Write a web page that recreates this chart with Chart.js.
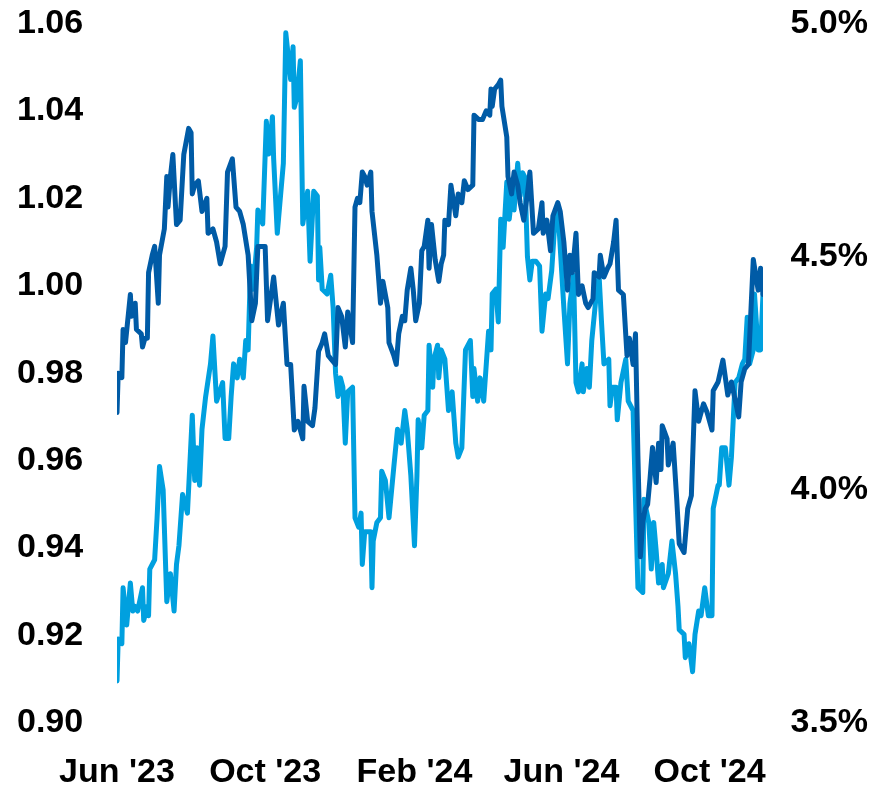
<!DOCTYPE html>
<html>
<head>
<meta charset="utf-8">
<script src="https://cdn.jsdelivr.net/npm/chart.js"></script>
<style>
	body { margin: 0; background: #fff; }
	#wrap { position: relative; width: 876px; height: 785px; }
</style>
</head>
<body>
<div id="wrap"><canvas id="chart"></canvas></div>
<script>
/* x = days after 1 Jun 2023 */
var xTickDays = [0, 122, 245, 366, 488];
var xTickLabels = ["Jun '23", "Oct '23", "Feb '24", "Jun '24", "Oct '24"];
var leftTicks = [0.90, 0.92, 0.94, 0.96, 0.98, 1.00, 1.02, 1.04, 1.06];
var rightTicks = [3.5, 4.0, 4.5, 5.0];

/* dark line, left axis */
var darkDays = [
	0, 1, 4, 5, 7, 11, 12, 15, 16, 20,
	21, 23, 25, 26, 29, 31, 34, 35, 39, 41,
	42, 44, 46, 49, 52, 55, 59, 61, 62, 64,
	67, 70, 74, 75, 79, 82, 85, 89, 91, 95,
	98, 101, 104, 108, 111, 114, 116, 122, 124, 129,
	133, 137, 140, 143, 146, 149, 153, 154, 157, 161,
	163, 166, 169, 171, 174, 177, 180, 182, 185, 188,
	190, 194, 196, 198, 200, 202, 204, 206, 209, 210,
	214, 217, 219, 223, 224, 228, 230, 232, 235, 237,
	239, 242, 244, 246, 249, 251, 253, 256, 257, 259,
	262, 265, 267, 269, 270, 273, 275, 279, 281, 284,
	286, 289, 293, 294, 298, 301, 304, 307, 308, 309,
	311, 314, 316, 317, 321, 322, 325, 327, 330, 332,
	335, 338, 340, 343, 347, 350, 351, 354, 357, 359,
	363, 365, 368, 371, 373, 375, 378, 380, 383, 386,
	388, 392, 393, 397, 398, 401, 404, 406, 409, 411,
	413, 417, 420, 422, 425, 427, 429, 431, 433, 435,
	437, 439, 441, 444, 446, 448, 449, 453, 454, 458,
	461, 463, 467, 470, 473, 476, 479, 483, 486, 490,
	491, 495, 499, 503, 506, 512, 514, 517, 520, 524,
	528, 530, 532];
var darkValues = [
	0.971, 0.980, 0.979, 0.990, 0.987, 0.998, 0.993, 0.996, 0.990, 0.989,
	0.986, 0.988, 0.988, 1.003, 1.007, 1.009, 0.996, 1.007, 1.013, 1.025,
	1.018, 1.025, 1.030, 1.014, 1.015, 1.030, 1.036, 1.035, 1.021, 1.023,
	1.024, 1.017, 1.020, 1.012, 1.013, 1.010, 1.005, 1.009, 1.026, 1.029,
	1.018, 1.017, 1.014, 1.007, 0.992, 0.996, 1.009, 1.009, 0.992, 1.002,
	0.991, 0.996, 0.982, 0.982, 0.967, 0.969, 0.965, 0.977, 0.969, 0.968,
	0.972, 0.985, 0.987, 0.989, 0.984, 0.983, 0.982, 0.995, 0.993, 0.986,
	0.994, 0.987, 1.018, 1.020, 1.019, 1.026, 1.025, 1.023, 1.026, 1.017,
	1.007, 0.996, 1.001, 0.995, 0.987, 0.984, 0.982, 0.989, 0.993, 0.992,
	0.999, 1.004, 0.999, 0.992, 0.996, 1.008, 1.009, 1.015, 1.004, 1.014,
	1.006, 1.001, 1.005, 1.007, 1.015, 1.014, 1.023, 1.016, 1.021, 1.019,
	1.024, 1.022, 1.023, 1.039, 1.038, 1.038, 1.040, 1.039, 1.045, 1.041,
	1.045, 1.046, 1.047, 1.041, 1.034, 1.025, 1.021, 1.026, 1.023, 1.019,
	1.015, 1.021, 1.026, 1.012, 1.013, 1.019, 1.012, 1.015, 1.008, 1.016,
	1.019, 1.017, 1.010, 0.999, 1.007, 1.003, 1.012, 0.998, 1.000, 0.996,
	0.995, 0.997, 1.003, 1.002, 1.007, 1.002, 1.004, 1.005, 1.010, 1.015,
	0.999, 0.998, 0.984, 0.988, 0.982, 0.989, 0.961, 0.938, 0.946, 0.949,
	0.950, 0.956, 0.963, 0.955, 0.964, 0.958, 0.968, 0.965, 0.959, 0.964,
	0.951, 0.941, 0.939, 0.949, 0.952, 0.976, 0.969, 0.973, 0.971, 0.967,
	0.976, 0.978, 0.983, 0.975, 0.978, 0.970, 0.978, 0.981, 0.982, 1.006,
	0.999, 1.004, 0.998];

/* light line, right axis (%) */
var lightDays = [
	0, 1, 4, 5, 8, 11, 13, 15, 17, 21,
	22, 25, 26, 27, 31, 33, 35, 38, 41, 44,
	47, 49, 51, 54, 58, 62, 64, 66, 68, 70,
	73, 77, 79, 82, 87, 89, 92, 94, 96, 99,
	101, 104, 106, 108, 110, 112, 115, 116, 120, 123,
	125, 128, 129, 132, 134, 137, 139, 143, 145, 146,
	148, 151, 153, 157, 159, 162, 165, 166, 167, 169,
	173, 176, 178, 180, 182, 184, 186, 188, 190, 194,
	196, 199, 201, 202, 204, 209, 210, 211, 214, 217,
	218, 221, 224, 228, 231, 234, 237, 239, 242, 245,
	247, 248, 251, 253, 256, 257, 260, 261, 264, 265,
	267, 270, 273, 276, 279, 281, 284, 287, 291, 293,
	294, 297, 299, 302, 306, 308, 309, 312, 314, 316,
	318, 321, 323, 326, 327, 330, 332, 334, 336, 338,
	340, 342, 345, 348, 350, 353, 355, 358, 360, 363,
	365, 368, 371, 373, 376, 378, 380, 383, 384, 387,
	389, 391, 394, 397, 399, 401, 405, 406, 408, 411,
	412, 415, 419, 421, 425, 427, 429, 433, 434, 438,
	440, 442, 444, 446, 449, 450, 454, 457, 460, 462,
	463, 467, 468, 471, 474, 476, 479, 481, 484, 487,
	490, 491, 495, 496, 498, 501, 504, 506, 509, 512,
	515, 517, 519, 521, 524, 525, 528, 530, 532];
var lightValues = [
	3.59, 3.68, 3.67, 3.79, 3.71, 3.80, 3.74, 3.75, 3.74, 3.79,
	3.72, 3.75, 3.73, 3.83, 3.85, 3.94, 4.05, 4.00, 3.76, 3.82,
	3.74, 3.84, 3.88, 3.99, 3.95, 4.16, 4.02, 4.09, 4.01, 4.13,
	4.20, 4.27, 4.33, 4.19, 4.23, 4.11, 4.11, 4.20, 4.27, 4.24,
	4.28, 4.24, 4.32, 4.30, 4.48, 4.43, 4.52, 4.60, 4.57, 4.79,
	4.72, 4.80, 4.71, 4.55, 4.61, 4.70, 4.98, 4.88, 4.95, 4.82,
	4.84, 4.92, 4.57, 4.64, 4.49, 4.64, 4.63, 4.45, 4.52, 4.43,
	4.42, 4.46, 4.39, 4.25, 4.20, 4.24, 4.22, 4.10, 4.21, 4.22,
	3.94, 3.92, 3.95, 3.84, 3.91, 3.91, 3.79, 3.89, 3.93, 3.94,
	4.04, 4.02, 3.94, 4.05, 4.13, 4.10, 4.17, 4.13, 4.03, 3.88,
	4.03, 4.15, 4.09, 4.16, 4.17, 4.31, 4.22, 4.28, 4.31, 4.24,
	4.30, 4.28, 4.17, 4.21, 4.10, 4.07, 4.09, 4.30, 4.32, 4.20,
	4.26, 4.19, 4.24, 4.19, 4.34, 4.30, 4.42, 4.43, 4.36, 4.58,
	4.52, 4.66, 4.58, 4.65, 4.60, 4.70, 4.63, 4.68, 4.67, 4.50,
	4.45, 4.49, 4.49, 4.48, 4.34, 4.42, 4.41, 4.47, 4.55, 4.61,
	4.52, 4.39, 4.27, 4.40, 4.46, 4.23, 4.21, 4.27, 4.21, 4.26,
	4.22, 4.32, 4.40, 4.46, 4.36, 4.27, 4.28, 4.18, 4.22, 4.22,
	4.15, 4.23, 4.28, 4.19, 4.17, 3.98, 3.79, 3.78, 3.98, 3.93,
	3.83, 3.93, 3.87, 3.80, 3.84, 3.79, 3.82, 3.89, 3.82, 3.75,
	3.70, 3.69, 3.64, 3.67, 3.61, 3.69, 3.74, 3.73, 3.79, 3.73,
	3.73, 3.96, 4.01, 4.01, 4.09, 4.09, 4.01, 4.07, 4.23, 4.24,
	4.27, 4.28, 4.37, 4.27, 4.30, 4.42, 4.30, 4.30, 4.42];

function toPoints(days, values) {
	var pts = [];
	for (var i = 0; i < days.length && i < values.length; i++) {
		pts.push({ x: days[i], y: values[i] });
	}
	return pts;
}

function initChart() {
	var tickFont = { family: "'Liberation Sans', Arial, sans-serif", size: 34, weight: 'bold' };
	var ctx = document.getElementById('chart');
	new Chart(ctx, {
		type: 'line',
		data: {
			datasets: [{
				label: 'left',
				data: toPoints(darkDays, darkValues),
				yAxisID: 'yL',
				borderColor: '#005BA6',
				borderWidth: 5,
				borderJoinStyle: 'round',
				borderCapStyle: 'round',
				pointRadius: 0,
				tension: 0
			}, {
				label: 'right',
				data: toPoints(lightDays, lightValues),
				yAxisID: 'yR',
				borderColor: '#00A0DF',
				borderWidth: 5,
				borderJoinStyle: 'round',
				borderCapStyle: 'round',
				pointRadius: 0,
				tension: 0
			}]
		},
		options: {
			responsive: true,
			maintainAspectRatio: false,
			animation: false,
			layout: { padding: { top: 23, left: 17, right: 8, bottom: 0 } },
			plugins: { legend: { display: false }, tooltip: { enabled: false } },
			scales: {
				x: {
					type: 'linear',
					min: 0,
					max: 532,
					grid: { display: false },
					border: { display: false },
					afterBuildTicks: function(axis) {
						axis.ticks = xTickDays.map(function(d) { return { value: d }; });
					},
					afterFit: function(axis) { axis.height = 62; },
					ticks: {
						autoSkip: false,
						maxRotation: 0,
						padding: 21,
						color: '#000',
						font: tickFont,
						callback: function(value) {
							var i = xTickDays.indexOf(value);
							return i >= 0 ? xTickLabels[i] : '';
						}
					}
				},
				yL: {
					position: 'left',
					min: 0.90,
					max: 1.06,
					grid: { display: false },
					border: { display: false },
					afterBuildTicks: function(axis) {
						axis.ticks = leftTicks.map(function(v) { return { value: v }; });
					},
					afterFit: function(axis) { axis.width = 100; },
					ticks: {
						crossAlign: 'far',
						color: '#000',
						font: tickFont,
						callback: function(value) { return value.toFixed(2); }
					}
				},
				yR: {
					position: 'right',
					min: 3.5,
					max: 5.0,
					grid: { display: false },
					border: { display: false },
					afterBuildTicks: function(axis) {
						axis.ticks = rightTicks.map(function(v) { return { value: v }; });
					},
					afterFit: function(axis) { axis.width = 105; },
					ticks: {
						crossAlign: 'far',
						color: '#000',
						font: tickFont,
						callback: function(value) { return value.toFixed(1) + '%'; }
					}
				}
			}
		}
	});
}

initChart();
</script>
</body>
</html>
